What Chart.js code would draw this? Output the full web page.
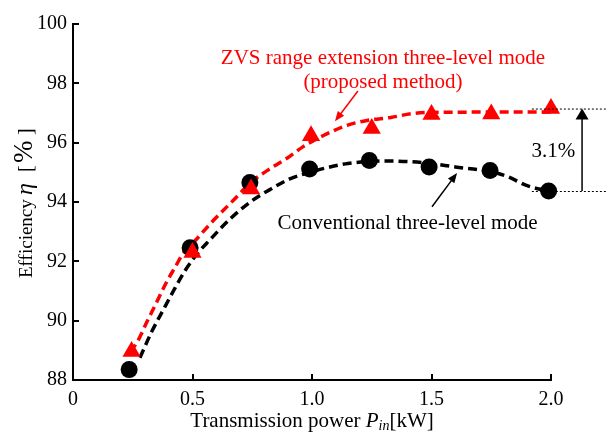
<!DOCTYPE html>
<html>
<head>
<meta charset="utf-8">
<title>Efficiency vs transmission power</title>
<script src="https://cdn.jsdelivr.net/npm/chart.js@4"></script>
<style>
  html, body { margin: 0; padding: 0; background: #fff; }
  canvas { display: block; }
</style>
</head>
<body>
<canvas id="effChart" width="606" height="434"></canvas>
<script>
// measured points
const convPower = [0.235, 0.49, 0.74, 0.99, 1.24, 1.49, 1.745, 1.99];
const convEff = [88.35, 92.46, 94.66, 95.11, 95.40, 95.18, 95.06, 94.37];
const zvsPower = [0.245, 0.5, 0.745, 0.996, 1.25, 1.5, 1.75, 2.0];
const zvsEff = [88.96, 92.30, 94.44, 96.23, 96.48, 96.95, 96.97, 97.15];

// fitted trend curves (dashed)
const convFitPower = [0.28, 0.33, 0.38, 0.42, 0.47, 0.52, 0.57, 0.66, 0.75, 0.82, 0.91, 1.0, 1.06, 1.15, 1.31, 1.475, 1.6, 1.75, 1.82, 1.9, 1.99];
const convFitEff = [88.75, 89.64, 90.4, 91.0, 91.7, 92.26, 92.7, 93.45, 94.05, 94.4, 94.79, 95.02, 95.15, 95.3, 95.38, 95.32, 95.18, 95.02, 94.85, 94.55, 94.37];
const zvsFitPower = [0.24, 0.27, 0.31, 0.35, 0.39, 0.43, 0.46, 0.5, 0.59, 0.67, 0.75, 0.83, 0.9, 0.96, 1.05, 1.15, 1.23, 1.33, 1.42, 1.5, 1.75, 2.0];
const zvsFitEff = [88.95, 89.3, 89.97, 90.62, 91.28, 91.84, 92.26, 92.6, 93.4, 94.05, 94.7, 95.15, 95.5, 95.85, 96.25, 96.59, 96.75, 96.85, 96.98, 97.02, 97.03, 97.03];

// axis ticks
const xTicks = [0, 0.5, 1.0, 1.5, 2.0];
const xTickLabels = ['0', '0.5', '1.0', '1.5', '2.0'];
const yTicks = [88, 90, 92, 94, 96, 98, 100];
const yTickLabels = ['88', '90', '92', '94', '96', '98', '100'];

// annotation text
const zvsNote = ['ZVS range extension three-level mode', '(proposed method)'];
const convNote = 'Conventional three-level mode';
const gapNote = '3.1%';

const SERIF = '"Liberation Serif", "Times New Roman", serif';
const RED = '#ff0000';

function pts(xs, ys) {
  return xs.map((x, i) => ({ x: x, y: ys[i] }));
}

function arrow(ctx, x1, y1, x2, y2, len, half) {
  const a = Math.atan2(y2 - y1, x2 - x1);
  const c = Math.cos(a), s = Math.sin(a);
  ctx.beginPath();
  ctx.moveTo(x1, y1);
  ctx.lineTo(x2 - c * len * 0.8, y2 - s * len * 0.8);
  ctx.stroke();
  ctx.beginPath();
  ctx.moveTo(x2, y2);
  ctx.lineTo(x2 - len * c + half * s, y2 - len * s - half * c);
  ctx.lineTo(x2 - len * c - half * s, y2 - len * s + half * c);
  ctx.closePath();
  ctx.fill();
}

// titles, callouts and the 3.1 % gap marker
const notes = {
  id: 'notes',
  afterDraw(chart) {
    const ctx = chart.ctx;
    const xs = chart.scales.x, ys = chart.scales.y;
    const px = v => xs.getPixelForValue(v);
    const py = v => ys.getPixelForValue(v);
    ctx.save();
    ctx.textBaseline = 'alphabetic';

    // red callout
    ctx.fillStyle = RED;
    ctx.strokeStyle = RED;
    ctx.lineWidth = 1.5;
    ctx.font = '21px ' + SERIF;
    ctx.textAlign = 'center';
    ctx.fillText(zvsNote[0], px(1.297), py(98.66));
    ctx.fillText(zvsNote[1], px(1.297), py(97.85));
    arrow(ctx, px(1.192), py(97.74), px(1.096), py(96.72), 10, 4);

    // black callout
    ctx.fillStyle = '#000';
    ctx.strokeStyle = '#000';
    ctx.fillText(convNote, px(1.40), py(93.08));
    arrow(ctx, px(1.502), py(93.84), px(1.607), py(94.98), 10, 4);

    // gap between the two modes at full power
    const yTop = py(zvsEff[zvsEff.length - 1]);
    const yBot = py(convEff[convEff.length - 1]);
    ctx.lineWidth = 1;
    ctx.setLineDash([2, 2]);
    ctx.beginPath();
    ctx.moveTo(px(1.92), yTop + 0.5);
    ctx.lineTo(chart.width, yTop + 0.5);
    ctx.moveTo(px(1.92), yBot + 0.5);
    ctx.lineTo(chart.width, yBot + 0.5);
    ctx.stroke();
    ctx.setLineDash([]);
    ctx.lineWidth = 1.5;
    arrow(ctx, px(2.13), yBot, px(2.13), yTop, 11, 6.5);
    ctx.fillText(gapNote, px(2.01), py(95.51));

    // x axis title: Transmission power P_in [kW]
    const partA = 'Transmission power ';
    ctx.font = '21px ' + SERIF;
    const wA = ctx.measureText(partA).width;
    const wK = ctx.measureText('[kW]').width;
    ctx.font = 'italic 21px ' + SERIF;
    const wP = ctx.measureText('P').width;
    ctx.font = 'italic 14px ' + SERIF;
    const wIn = ctx.measureText('in').width;
    const total = wA + wP + wIn + wK;
    let x0 = (chart.chartArea.left + chart.chartArea.right) / 2 - total / 2;
    const base = 427;
    ctx.textAlign = 'left';
    ctx.font = '21px ' + SERIF;
    ctx.fillText(partA, x0, base);
    x0 += wA;
    ctx.font = 'italic 21px ' + SERIF;
    ctx.fillText('P', x0, base);
    x0 += wP;
    ctx.font = 'italic 14px ' + SERIF;
    ctx.fillText('in', x0, base + 3);
    x0 += wIn;
    ctx.font = '21px ' + SERIF;
    ctx.fillText('[kW]', x0, base);

    // y axis title: Efficiency η [%]
    ctx.translate(32, 278);
    ctx.rotate(-Math.PI / 2);
    ctx.font = '19px ' + SERIF;
    ctx.fillText('Efficiency', 0, 0);
    ctx.font = 'italic 24px ' + SERIF;
    ctx.fillText('η', 83, 0);
    ctx.font = '20px ' + SERIF;
    ctx.fillText('[', 106, 0);
    ctx.font = '27px ' + SERIF;
    ctx.fillText('%', 115, 0);
    ctx.font = '20px ' + SERIF;
    ctx.fillText(']', 143, 0);
    ctx.restore();
  }
};

const tickFont = { family: SERIF, size: 20 };

new Chart(document.getElementById('effChart'), {
  type: 'line',
  data: {
    datasets: [
      {
        data: pts(convFitPower, convFitEff),
        borderColor: '#000',
        borderWidth: 3.5,
        borderDash: [9, 5],
        pointRadius: 0,
        cubicInterpolationMode: 'monotone',
        fill: false,
        order: 4,
      },
      {
        data: pts(zvsFitPower, zvsFitEff),
        borderColor: RED,
        borderWidth: 3.5,
        borderDash: [9, 5],
        pointRadius: 0,
        cubicInterpolationMode: 'monotone',
        fill: false,
        order: 3,
      },
      {
        data: pts(convPower, convEff),
        showLine: false,
        pointStyle: 'circle',
        pointRadius: 8.5,
        pointBackgroundColor: '#000',
        pointBorderWidth: 0,
        order: 2,
      },
      {
        data: pts(zvsPower, zvsEff),
        showLine: false,
        pointStyle: 'triangle',
        pointRadius: 10.5,
        pointBackgroundColor: RED,
        pointBorderWidth: 0,
        order: 1,
      },
    ],
  },
  options: {
    responsive: false,
    animation: false,
    clip: false,
    layout: { padding: { top: 14, right: 55, bottom: 0, left: 0 } },
    plugins: { legend: { display: false }, tooltip: { enabled: false } },
    scales: {
      x: {
        type: 'linear',
        min: xTicks[0],
        max: xTicks[xTicks.length - 1],
        afterBuildTicks: s => { s.ticks = xTicks.map(v => ({ value: v })); },
        afterFit: s => { s.height = 54; },
        ticks: {
          callback: (v, i) => xTickLabels[i],
          font: tickFont,
          color: '#000',
          padding: 14,
          maxRotation: 0,
        },
        grid: { drawOnChartArea: false, tickLength: -6, color: '#000', lineWidth: 2 },
        border: { color: '#000', width: 2 },
      },
      y: {
        min: yTicks[0],
        max: yTicks[yTicks.length - 1],
        afterBuildTicks: s => { s.ticks = yTicks.map(v => ({ value: v })); },
        afterFit: s => { s.width = 73; },
        ticks: {
          callback: (v, i) => yTickLabels[i],
          font: tickFont,
          color: '#000',
          padding: 12,
        },
        grid: { drawOnChartArea: false, tickLength: -6, color: '#000', lineWidth: 2 },
        border: { color: '#000', width: 2 },
      },
    },
  },
  plugins: [notes],
});
</script>
</body>
</html>
